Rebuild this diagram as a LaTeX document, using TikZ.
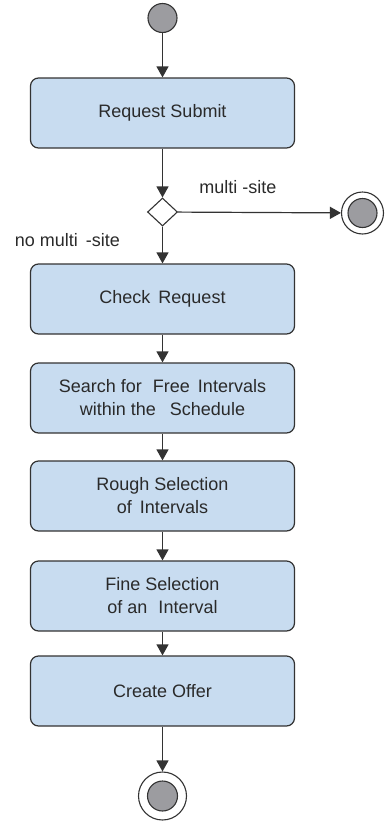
\documentclass[tikz,border=0pt]{standalone}
\usepackage{fontspec}
\setmainfont{Liberation Sans}
\usetikzlibrary{arrows.meta,shapes.geometric}
\definecolor{edge}{HTML}{333333}
\definecolor{actfill}{HTML}{C8DCF0}
\definecolor{dotfill}{HTML}{9C9CA0}
\definecolor{txt}{HTML}{2A2A2A}
\begin{document}
\begin{tikzpicture}[x=1pt,y=-1pt,
  act/.style={draw=edge, fill=actfill, line width=1.2pt, rounded corners=8pt,
    minimum width=264pt, minimum height=70pt, inner sep=0pt, align=center,
    font=\fontsize{18}{23}\selectfont, text=txt},
  flow/.style={draw=edge, line width=1.2pt, -{Triangle[width=12pt,length=11pt]}},
  lbl/.style={font=\fontsize{18}{23}\selectfont, text=txt, inner sep=0pt},
  dot/.style={circle, draw=edge, line width=1.1pt, fill=dotfill, inner sep=0pt, minimum size=#1},
  ring/.style={circle, draw=edge, line width=1.1pt, fill=white, inner sep=0pt, minimum size=#1},
  choice/.style={diamond, draw=edge, line width=1.1pt, fill=white, inner sep=0pt,
    minimum width=30pt, minimum height=28pt}
]
\useasboundingbox (0,0) rectangle (385,825);

% initial node
\node[dot=29pt] (start) at (162.5,18) {};

% activities
\node[act] (submit) at (162.5,113) {Request Submit};
\node[choice] (split) at (162.5,212) {};
\node[act] (check)  at (162.5,299) {Check\, Request};
\node[act] (search) at (162.5,398) {Search for\,\, Free\, Intervals\\within the\,\,\, Schedule};
\node[act] (rough)  at (162.5,496) {Rough Selection\\of\, Intervals};
\node[act] (fine)   at (162.5,596) {Fine Selection\\of an\,\, Interval};
\node[act] (offer)  at (162.5,691) {Create Offer};

% final nodes
\node[ring=42pt] (endA) at (362.5,213) {};
\node[dot=29pt] at (endA.center) {};
\node[ring=48pt] (endB) at (162.5,796) {};
\node[dot=30pt] at (endB.center) {};

% guard labels
\node[lbl] (lmulti) at (238,187) {multi -site};
\node[lbl] (lnomulti) at (67.5,240) {no multi\, -site};

% control flow
\draw[flow] (start) -- (submit);
\draw[flow] (submit) -- (split);
\draw[flow] (split) -- (endA);
\draw[flow] (split) -- (check);
\draw[flow] (check) -- (search);
\draw[flow] (search) -- (rough);
\draw[flow] (rough) -- (fine);
\draw[flow] (fine) -- (offer);
\draw[flow] (offer) -- (endB);
\end{tikzpicture}
\end{document}
